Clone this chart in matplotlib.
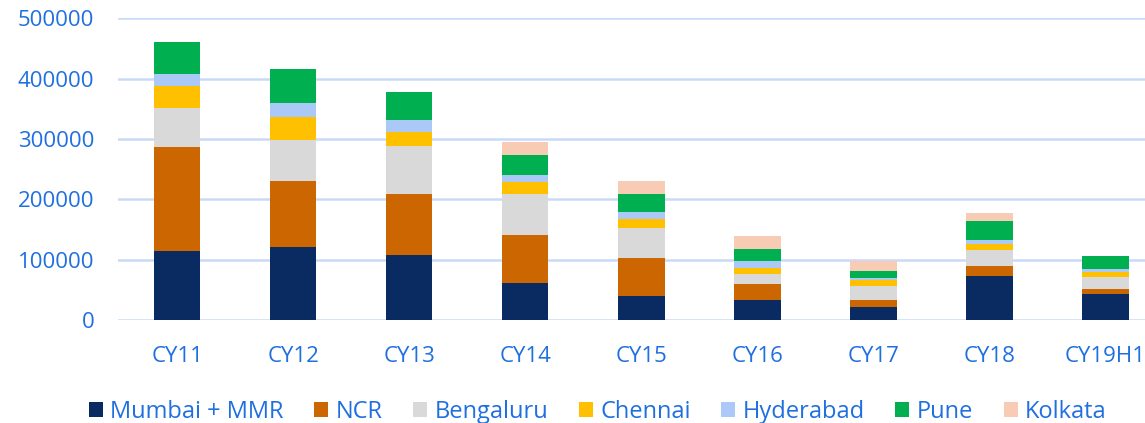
import numpy as np
import matplotlib.pyplot as plt

years = ['CY11', 'CY12', 'CY13', 'CY14', 'CY15', 'CY16', 'CY17', 'CY18', 'CY19H1']
cities = ['Mumbai + MMR', 'NCR', 'Bengaluru', 'Chennai', 'Hyderabad', 'Pune', 'Kolkata']

mumbai    = [114000, 121000, 108500, 62000, 39000, 33500, 22000, 73500, 42500]
ncr       = [172500, 110000, 100000, 79500, 63000, 26500, 11700, 15500, 9000]
bengaluru = [64000, 68000, 79000, 68000, 50500, 16000, 23200, 27700, 20500]
chennai   = [36500, 37000, 24000, 18500, 15000, 10500, 8800, 10000, 7800]
hyderabad = [20000, 23000, 19500, 13000, 11500, 11500, 4000, 6000, 4900]
pune      = [53500, 56500, 46000, 33000, 30500, 19500, 12100, 32000, 21600]
kolkata   = [0, 0, 0, 21500, 20000, 22000, 16600, 13000, 0]

series = [mumbai, ncr, bengaluru, chennai, hyderabad, pune, kolkata]
colors = ['#0a2b61', '#cc6600', '#d9d9d9', '#ffc000', '#abc9f7', '#00b050', '#f8cbb4']
txt_col = '#1f6fe0'

plt.rcParams['font.family'] = ['Open Sans', 'DejaVu Sans']

fig = plt.figure(figsize=(11.45, 4.23), dpi=100)
ax = fig.add_axes([0.103, 0.2435, 0.897, 0.7135])

x = np.arange(len(years))
bottom = np.zeros(len(years))
for name, vals, c in zip(cities, series, colors):
    vals = np.array(vals, dtype=float)
    ax.bar(x, vals, 0.4, bottom=bottom, color=c, label=name, zorder=3)
    bottom += vals

ax.set_xlim(-0.51, 8.34)
ax.set_ylim(0, 500000)
ax.set_yticks(range(0, 500001, 100000))
ax.set_yticklabels([str(v) for v in range(0, 500001, 100000)])
ax.set_xticks(x)
ax.set_xticklabels(years)
ax.grid(axis='y', color='#c9daf8', linewidth=1.8, zorder=0)
for s in ax.spines.values():
    s.set_visible(False)
ax.tick_params(axis='both', length=0, labelsize=16, labelcolor=txt_col)
ax.tick_params(axis='x', pad=19)
ax.tick_params(axis='y', pad=17)

ax.legend(loc='center', bbox_to_anchor=(0.467, -0.305), ncol=7, frameon=False,
          fontsize=17, labelcolor=txt_col, handlelength=0.6, handleheight=0.6,
          handletextpad=0.3, columnspacing=1.3)

fig.savefig('out.png', dpi=100)
